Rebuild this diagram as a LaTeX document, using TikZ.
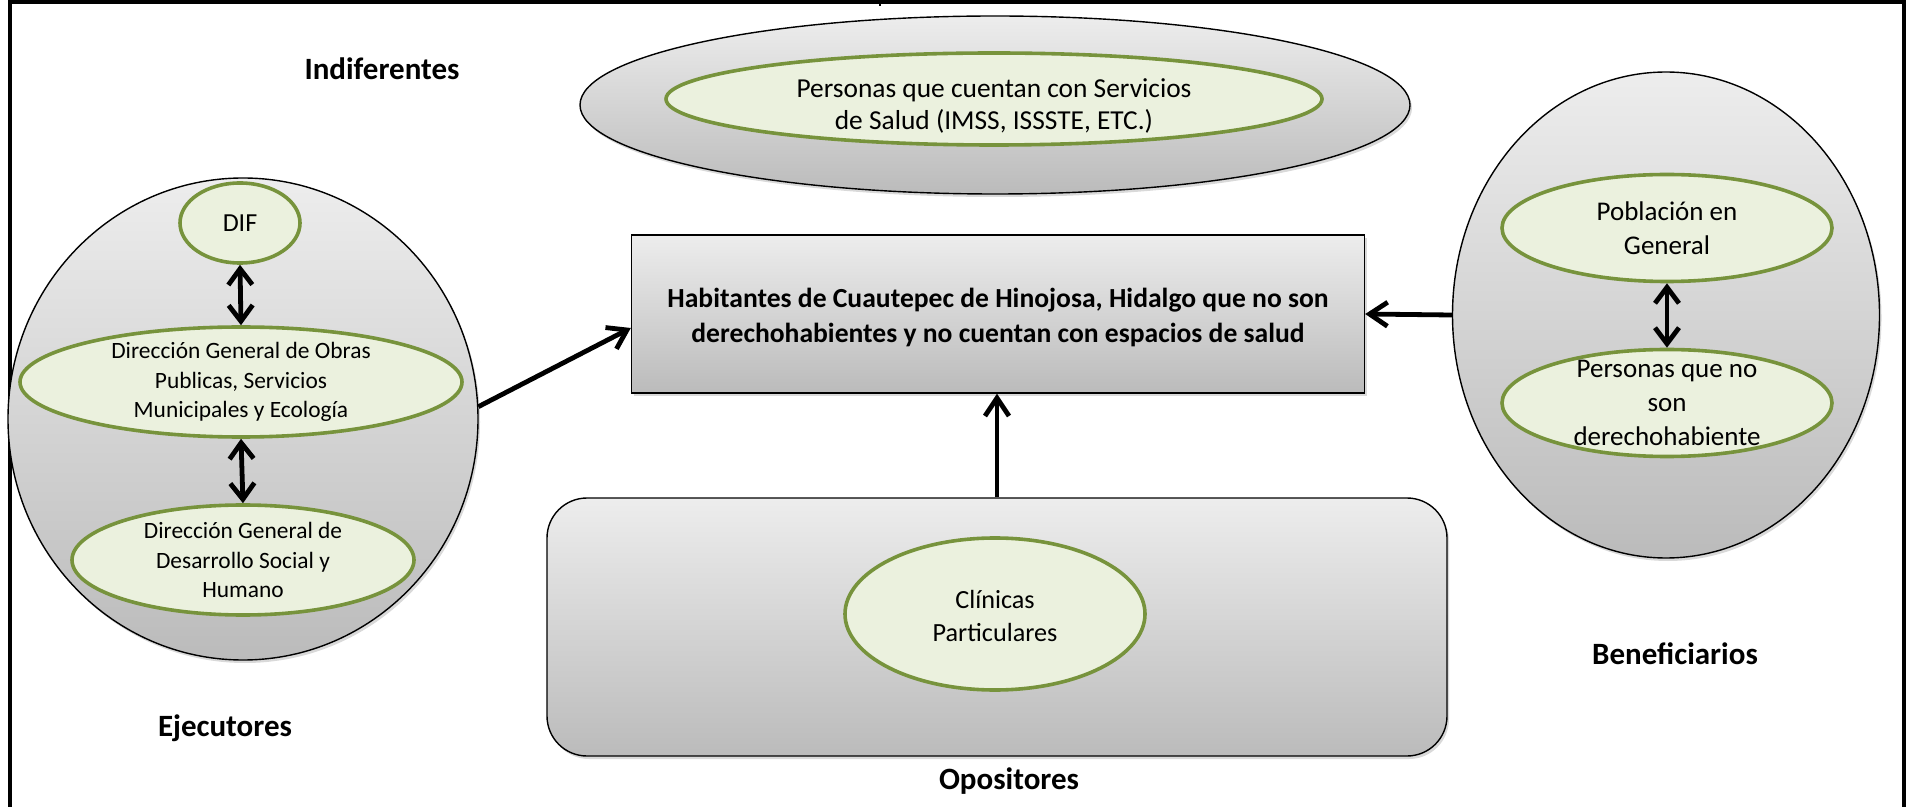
\documentclass[tikz,border=0pt]{standalone}
\usepackage{fontspec}
\setmainfont{Carlito}
\usetikzlibrary{shapes.geometric,arrows.meta,shadows}
\definecolor{gfill}{HTML}{EBF1DE}
\definecolor{gline}{HTML}{77933C}
\definecolor{gtop}{HTML}{EDEDED}
\definecolor{gbot}{HTML}{BBBBBB}
\begin{document}
\begin{tikzpicture}[x=0.5pt,y=-0.5pt,
  bigshape/.style={draw=black, line width=0.7pt, top color=gtop, bottom color=gbot,
    drop shadow={opacity=0.3, shadow xshift=1pt, shadow yshift=-1.5pt}},
  greenell/.style={ellipse, draw=gline, fill=gfill, line width=1.8pt,
    inner xsep=0pt, inner ysep=-15pt, align=center},
  fleft/.style={font=\fontsize{11.7}{14.8}\selectfont},
  fright/.style={font=\fontsize{13.5}{17.2}\selectfont},
  ftop/.style={font=\fontsize{13.7}{16}\selectfont},
  fclin/.style={font=\fontsize{13.1}{16.5}\selectfont},
  lbl/.style={font=\fontsize{15.5}{18}\selectfont\bfseries, anchor=base},
  arr/.style={line width=2.4pt, -{Straight Barb[length=9pt,width=12pt]}},
  dbl/.style={line width=2.4pt, {Straight Barb[length=8pt,width=12pt]}-{Straight Barb[length=8pt,width=12pt]}}
]
\useasboundingbox (0,0) rectangle (1906,807);
% page frame
\draw[line width=2pt] (10,807) -- (10,2) -- (1904,2) -- (1904,807);
\draw[line width=1pt] (880,0) -- (880,6);

% Indiferentes
\node[bigshape, ellipse, minimum width=415pt, minimum height=89pt] (indif) at (995,105) {};
\node[greenell, ftop, minimum width=328pt, minimum height=46pt] (imss) at (994,99)
  {\rule{0pt}{16.4pt}Personas que cuentan con Servicios\\de Salud (IMSS, ISSSTE, ETC.)};

% Ejecutores
\node[bigshape, ellipse, minimum width=235pt, minimum height=241pt] (ejec) at (243,419) {};
\node[greenell, font=\fontsize{13}{16}\selectfont, minimum width=60pt, minimum height=40pt] (dif) at (240,223) {DIF};
\node[greenell, fleft, minimum width=221pt, minimum height=55pt] (obras) at (241,382)
  {Dirección General de Obras\\Publicas, Servicios\\Municipales y Ecología};
\node[greenell, fleft, minimum width=171pt, minimum height=55pt] (desa) at (243,560)
  {Dirección General de\\Desarrollo Social y\\Humano};

% Beneficiarios
\node[bigshape, ellipse, minimum width=213.5pt, minimum height=243pt] (benef) at (1666,315) {};
\node[greenell, fright, minimum width=165pt, minimum height=53.5pt] (pobl) at (1667,228)
  {Población en\\General};
\node[greenell, fright, minimum width=165pt, minimum height=53.5pt] (pers) at (1667,403)
  {Personas que no\\son\\derechohabiente};

% Centro
\node[bigshape, rectangle, minimum width=366.5pt, minimum height=79pt, align=center,
  font=\fontsize{13.8}{17.4}\selectfont\bfseries] (centro) at (998,314)
  {\rule{0pt}{13pt}Habitantes de Cuautepec de Hinojosa, Hidalgo que no son\\derechohabientes y no cuentan con espacios de salud};

% Opositores
\node[bigshape, rectangle, rounded corners=20pt, minimum width=450pt, minimum height=129pt] (opos) at (997,627) {};
\node[greenell, fclin, minimum width=150pt, minimum height=76pt] (clin) at (995,614)
  {\rule{0pt}{11pt}Clínicas\\Particulares};

% labels
\node[lbl] (lind) at (382,80) {Indiferentes};
\node[lbl] (leje) at (225,736) {Ejecutores};
\node[lbl] (lopo) at (1009,789) {Opositores};
\node[lbl] (lben) at (1675,664) {Beneficiarios};

% connectors
\draw[arr] (ejec.3) -- ([yshift=-7pt]centro.west);
\draw[arr] (benef.west) -- (centro.east);
\draw[arr] (opos.north) -- (opos.north |- centro.south);
\draw[dbl] (dif.south) -- (obras.north);
\draw[dbl] (obras.south) -- (desa.north);
\draw[dbl] (pobl.south) -- (pers.north);
\end{tikzpicture}
\end{document}
